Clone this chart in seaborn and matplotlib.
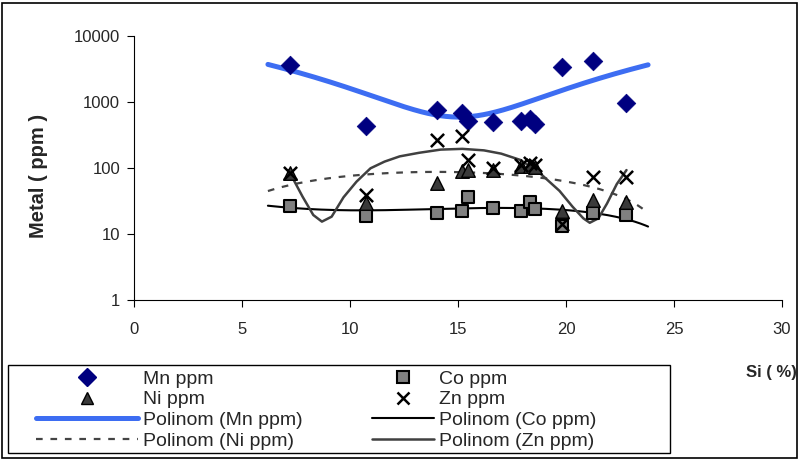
import numpy as np
import pandas as pd
import matplotlib
matplotlib.use("Agg")
import matplotlib.pyplot as plt
from matplotlib.lines import Line2D
from matplotlib.patches import Rectangle
import seaborn as sns

# ---- data ----
si = [7.2, 10.75, 14.05, 15.2, 15.45, 16.6, 17.9, 18.35, 18.55, 19.8, 21.25, 22.8]
mn = [3600, 435, 755, 680, 515, 500, 515, 550, 465, 3390, 4170, 960]
co = [26.5, 18.7, 21, 22.4, 36, 24.7, 22.4, 31, 24, 13, 21, 19.5]
ni = [84, 29.5, 59, 90, 92, 92, 108, 106, 104, 22, 33, 30.5]
zn = [84, 39, 265, 305, 132, 100, 112, 118, 110, 14, 73, 73]
# Zn polynomial trendline
zn_trend_x = [7.15, 7.8, 8.3, 8.7, 9.15, 9.7, 10.3, 10.95, 11.6, 12.3, 13.2, 14.2, 15.2,
              16.2, 17.0, 17.9, 18.8, 19.7, 20.3, 20.8, 21.1, 21.5, 21.9, 22.35, 22.8]
zn_trend_y = [93, 37, 19.4, 15.4, 18.3, 36, 62, 99, 125, 150, 170, 190, 195,
              185, 165, 132, 83, 45, 26, 17.3, 14.8, 17.3, 29, 57, 93]
poly_orders = [2, 3, 2]
x_ticks = [0, 5, 10, 15, 20, 25, 30]
y_ticks = [1, 10, 100, 1000, 10000]

sns.set_theme(style="white")
plt.rcParams["font.family"] = ["Liberation Sans", "DejaVu Sans"]

fig = plt.figure(figsize=(8.01, 4.61), dpi=100)
ax = fig.add_axes([134 / 801, 161 / 461, 648 / 801, 264 / 461])

df = pd.DataFrame({"Si": si, "Mn ppm": mn, "Co ppm": co, "Ni ppm": ni, "Zn ppm": zn})
zt = pd.DataFrame({"x": zn_trend_x, "y": zn_trend_y})

# polynomial trendlines ("Polinom") fitted to the data, extended 1 unit each side
def trend(col, order, extend):
    x = np.asarray(df["Si"], float)
    y = np.asarray(df[col], float)
    c = np.polyfit(x, y, order)
    xs = np.linspace(x.min() - extend, x.max() + extend, 400)
    return pd.DataFrame({"x": xs, "y": np.polyval(c, xs)})

t_mn = trend("Mn ppm", poly_orders[0], 1.0)
t_co = trend("Co ppm", poly_orders[1], 1.0)
t_ni = trend("Ni ppm", poly_orders[2], 1.0)

MN_LINE = "#3d6df2"
sns.lineplot(data=t_mn, x="x", y="y", ax=ax, color=MN_LINE, linewidth=3.6, zorder=2)
sns.lineplot(data=t_co, x="x", y="y", ax=ax, color="black", linewidth=1.5, zorder=2)
sns.lineplot(data=t_ni, x="x", y="y", ax=ax, color="#444444", linewidth=1.6,
             linestyle=(0, (3, 3.5)), zorder=2)
sns.lineplot(data=zt, x="x", y="y", ax=ax, color="#404040", linewidth=1.8, sort=False, zorder=2)

sns.scatterplot(data=df, x="Si", y="Mn ppm", ax=ax, marker="D", s=90,
                color="#000080", edgecolor="#000080", linewidth=0.5, zorder=3)
sns.scatterplot(data=df, x="Si", y="Co ppm", ax=ax, marker="s", s=85,
                color="#808080", edgecolor="black", linewidth=1.5, zorder=3)
sns.scatterplot(data=df, x="Si", y="Ni ppm", ax=ax, marker="^", s=95,
                color="#3a3a3a", edgecolor="black", linewidth=1.0, zorder=4)
sns.scatterplot(data=df, x="Si", y="Zn ppm", ax=ax, marker="x", s=90,
                color="black", linewidth=1.8, zorder=5)

ax.set_yscale("log")
ax.set_ylim(1, 10000)
ax.set_xlim(0, 30)
ax.set_xticks(x_ticks)
ax.set_xticklabels([str(v) for v in x_ticks])
ax.set_yticks(y_ticks)
ax.set_yticklabels([str(v) for v in y_ticks])
ax.minorticks_off()
ax.tick_params(axis="both", which="major", direction="out", length=5, width=0.8,
               color="black", labelsize=12, left=True, bottom=True)
ax.tick_params(axis="x", pad=11)
ax.tick_params(axis="y", pad=5)
for side in ["top", "right"]:
    ax.spines[side].set_visible(False)
for side in ["left", "bottom"]:
    ax.spines[side].set_color("black")
    ax.spines[side].set_linewidth(0.8)
ax.set_xlabel("")
ax.set_ylabel("")
ax.grid(False)

fig.text(38 / 801, 1 - 176 / 461, "Metal ( ppm )", rotation=90, ha="center", va="center",
         fontsize=14.5, fontweight="bold")
fig.text(797 / 801, 1 - 372 / 461, "Si ( %)", ha="right", va="center",
         fontsize=12, fontweight="bold")

h_mn = Line2D([], [], linestyle="none", marker="D", markersize=9, color="#000080")
h_co = Line2D([], [], linestyle="none", marker="s", markersize=8, markerfacecolor="#808080",
              markeredgecolor="black", markeredgewidth=1.5)
h_ni = Line2D([], [], linestyle="none", marker="^", markersize=9, markerfacecolor="#3a3a3a",
              markeredgecolor="black")
h_zn = Line2D([], [], linestyle="none", marker="x", markersize=9, color="black",
              markeredgewidth=1.8)
h_pmn = Line2D([], [], color=MN_LINE, linewidth=3.6)
h_pco = Line2D([], [], color="black", linewidth=1.5)
h_pni = Line2D([], [], color="#444444", linewidth=1.6, linestyle=(0, (3, 3.5)))
h_pzn = Line2D([], [], color="#404040", linewidth=1.8)

leg_font = {"family": ["Liberation Sans", "DejaVu Sans"], "size": 14}
common = dict(loc="upper left", frameon=False, borderpad=0, borderaxespad=0,
              labelspacing=0.16, handletextpad=0.26, prop=leg_font)
fig.legend([h_mn, h_ni, h_pmn, h_pni],
           ["Mn ppm", "Ni ppm", "Polinom (Mn ppm)", "Polinom (Ni ppm)"],
           bbox_to_anchor=(36 / 801, 1 - 370 / 461), handlelength=5.25, **common)
fig.legend([h_co, h_zn, h_pco, h_pzn],
           ["Co ppm", "Zn ppm", "Polinom (Co ppm)", "Polinom (Zn ppm)"],
           bbox_to_anchor=(372 / 801, 1 - 370 / 461), handlelength=3.2, **common)

# legend box and outer chart border
fig.patches.append(Rectangle((8 / 801, 1 - 453 / 461), 662 / 801, 88 / 461,
                             transform=fig.transFigure, fill=False, edgecolor="black",
                             linewidth=1.0))
fig.patches.append(Rectangle((2 / 801, 3 / 461), 795 / 801, 455 / 461, transform=fig.transFigure,
                             fill=False, edgecolor="black", linewidth=1.2))

fig.savefig("out.png", dpi=100, facecolor="white")
